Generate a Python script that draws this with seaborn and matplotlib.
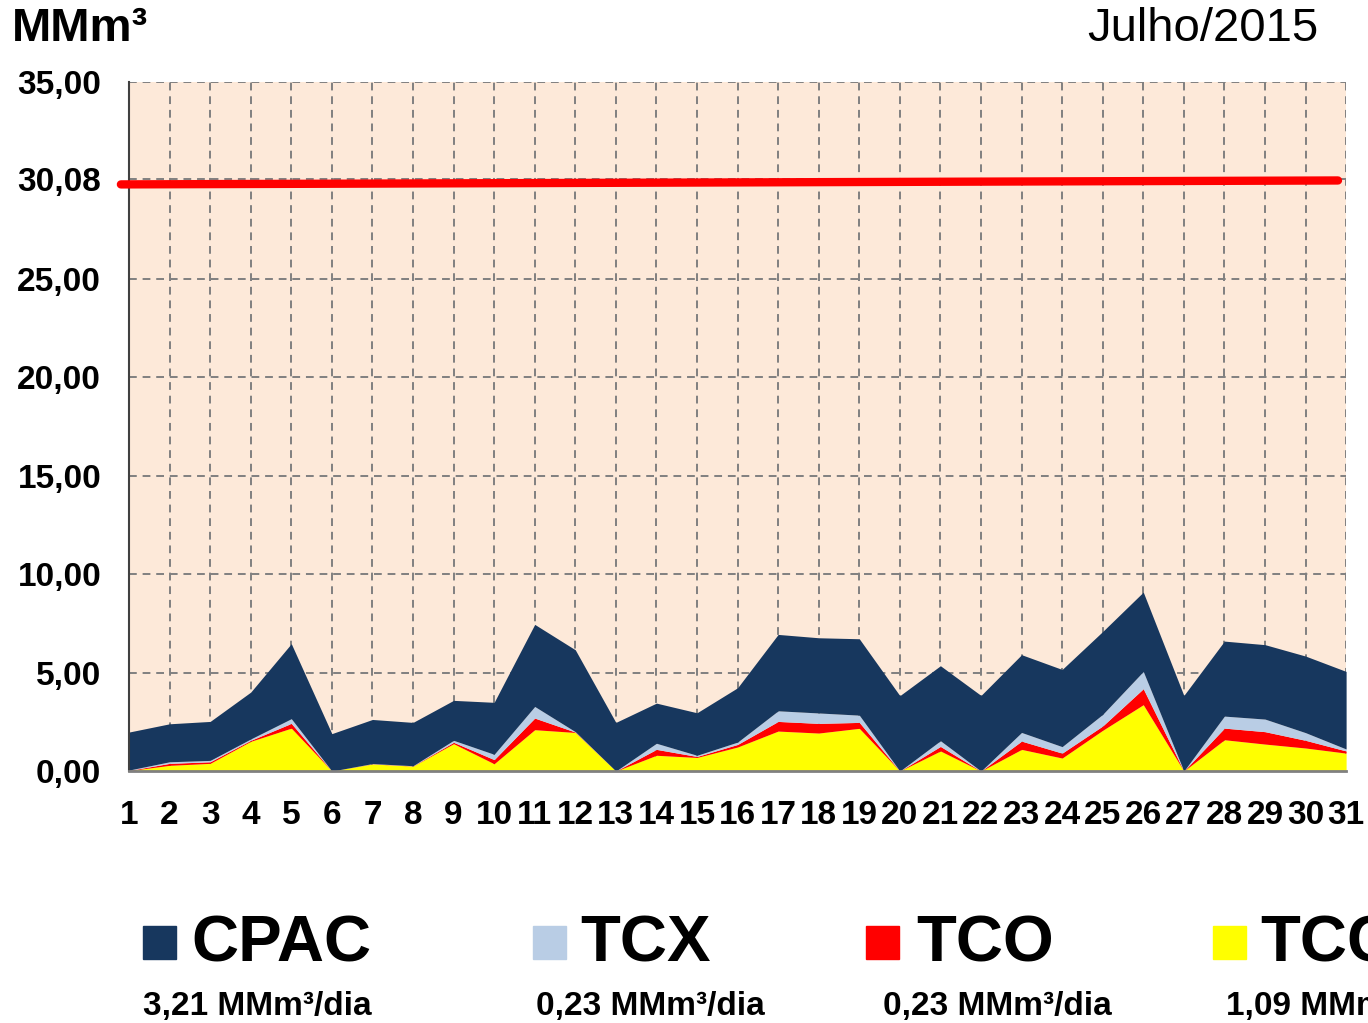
import matplotlib
matplotlib.use("Agg")
import matplotlib.pyplot as plt
import numpy as np
import pandas as pd
import seaborn as sns

# daily volumes (MMm3), July 2015
days = list(range(1, 32))
tcc = [0.02, 0.29, 0.39, 1.51, 2.18, 0.00, 0.36, 0.25, 1.39, 0.37, 2.10,
       1.96, 0.00, 0.80, 0.69, 1.22, 2.03, 1.93, 2.17, 0.00, 1.02, 0.00,
       1.10, 0.66, 2.07, 3.37, 0.00, 1.59, 1.37, 1.17, 0.91]
tco = [0.01, 0.10, 0.08, 0.05, 0.24, 0.00, 0.01, 0.01, 0.07, 0.21, 0.59,
       0.02, 0.00, 0.30, 0.05, 0.13, 0.49, 0.49, 0.30, 0.00, 0.23, 0.00,
       0.42, 0.25, 0.22, 0.81, 0.00, 0.59, 0.63, 0.39, 0.11]
tcx = [0.02, 0.08, 0.07, 0.07, 0.24, 0.00, 0.01, 0.01, 0.10, 0.27, 0.59,
       0.02, 0.00, 0.31, 0.06, 0.12, 0.54, 0.53, 0.37, 0.00, 0.29, 0.00,
       0.44, 0.33, 0.59, 0.88, 0.00, 0.61, 0.64, 0.39, 0.10]
cpac = [1.93, 1.93, 1.98, 2.38, 3.81, 1.90, 2.24, 2.20, 2.03, 2.64, 4.17,
        4.16, 2.47, 2.04, 2.16, 2.76, 3.88, 3.82, 3.88, 3.83, 3.81, 3.84,
        3.95, 3.92, 4.21, 4.03, 3.84, 3.81, 3.78, 3.89, 3.94]
limit_line = [29.80, 30.00]

y_ticks = [0, 5, 10, 15, 20, 25, 30.08, 35]
y_labels = ["0,00", "5,00", "10,00", "15,00", "20,00", "25,00", "30,08", "35,00"]

legend_names = ["CPAC", "TCX", "TCO", "TCC"]
legend_means = ["3,21 MMm³/dia", "0,23 MMm³/dia", "0,23 MMm³/dia", "1,09 MMm³/dia"]
colors = {"CPAC": "#17375E", "TCX": "#B9CDE5", "TCO": "#FF0000", "TCC": "#FFFF00"}

df = pd.DataFrame({"dia": days, "TCC": tcc, "TCO": tco, "TCX": tcx, "CPAC": cpac})

sns.set_style("white")
plt.rcParams["font.family"] = ["Liberation Sans", "DejaVu Sans"]
plt.rcParams["text.color"] = "black"

fig = plt.figure(figsize=(13.68, 10.23), dpi=100)
ax = fig.add_axes([0.0943, 0.2463, 0.8897, 0.6735])
ax.set_facecolor("#FDE9D9")

order = ["TCC", "TCO", "TCX", "CPAC"]
ax.stackplot(df["dia"], [df[c] for c in order],
             colors=[colors[c] for c in order], linewidth=0)

line_df = pd.DataFrame({"x": [0.8, 30.8], "y": limit_line})
sns.lineplot(data=line_df, x="x", y="y", ax=ax, color="#FF0000", linewidth=6,
             clip_on=False, zorder=5)

ax.set_xlim(1, 31)
ax.set_ylim(0, 35)
ax.set_xticks(days)
ax.set_xticklabels([str(d) for d in days], fontsize=24, fontweight="bold")
ax.set_yticks(y_ticks)
ax.set_yticklabels(y_labels, fontsize=24, fontweight="bold")
ax.tick_params(axis="x", length=8, color="#808080", width=1.5, pad=13, labelcolor="black")
ax.tick_params(axis="y", length=8, color="#404040", width=1.5, pad=12, labelcolor="black")
ax.grid(True, color="#808080", linestyle=(0, (4, 3)), linewidth=1.4)
ax.set_axisbelow(True)
for s in ["top", "right"]:
    ax.spines[s].set_visible(False)
ax.spines["left"].set_color("#404040")
ax.spines["left"].set_linewidth(1.5)
ax.spines["bottom"].set_color("#808080")
ax.spines["bottom"].set_linewidth(2)
ax.set_xlabel("")
ax.set_ylabel("")

fig.text(0.009, 0.972, "MMm³", fontsize=34, fontweight="bold", va="center")
fig.text(0.964, 0.972, "Julho/2015", fontsize=34, ha="right", va="center")

sq_x = [143, 533, 866, 1213]
txt_x = [191, 580, 916, 1260]
mean_x = [257, 650, 997, 1226]
for i, name in enumerate(legend_names):
    fig.patches.append(plt.Rectangle((sq_x[i] / 1368, 1 - 959 / 1023), 33 / 1368, 33 / 1023,
                                     transform=fig.transFigure, color=colors[name]))
    fig.text(txt_x[i] / 1368, 1 - 944 / 1023, name, fontsize=47, fontweight="bold",
             va="center", ha="left")
    ha = "left" if i == 3 else "center"
    fig.text(mean_x[i] / 1368, 1 - 1007 / 1023, legend_means[i], fontsize=24,
             fontweight="bold", va="center", ha=ha)

fig.savefig("out.png", dpi=100)
